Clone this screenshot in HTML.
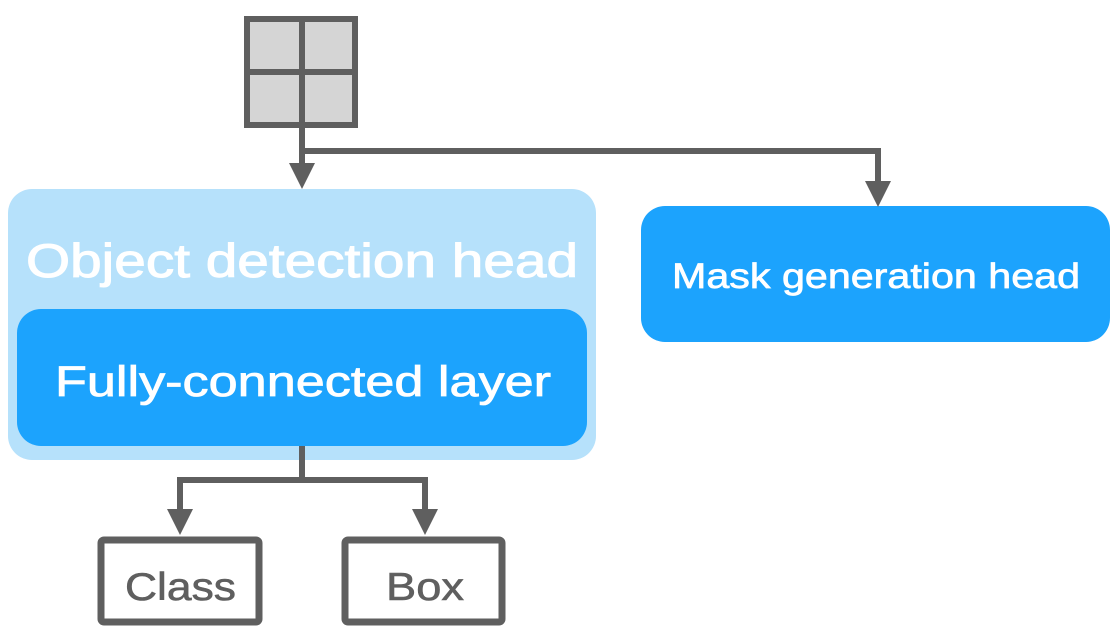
<!DOCTYPE html>
<html><head><style>body{margin:0;background:#fff}</style></head><body>
<svg width="1118" height="638" xmlns="http://www.w3.org/2000/svg" font-family="Liberation Sans, sans-serif">
<rect x="8" y="189" width="588" height="271" rx="24" fill="#b6e1fb"/>
<text x="26" y="277" font-size="47" fill="#fff" stroke="#fff" stroke-width="1" textLength="552" lengthAdjust="spacingAndGlyphs">Object detection head</text>
<rect x="17" y="309" width="570" height="137" rx="24" fill="#1ca3fd"/>
<text x="55" y="396" font-size="43" fill="#fff" stroke="#fff" stroke-width="0.8" textLength="496" lengthAdjust="spacingAndGlyphs">Fully-connected layer</text>
<rect x="641" y="206" width="469" height="136" rx="24" fill="#1ca3fd"/>
<text x="672" y="288" font-size="35" fill="#fff" stroke="#fff" stroke-width="0.7" textLength="408" lengthAdjust="spacingAndGlyphs">Mask generation head</text>
<g fill="#d5d5d5" stroke="#5f5f5f" stroke-width="6">
<rect x="247" y="19" width="108" height="106"/>
<line x1="302" y1="19" x2="302" y2="125"/><line x1="247" y1="72" x2="355" y2="72"/>
</g>
<g stroke="#5f5f5f" stroke-width="6" fill="none">
<polyline points="302,125 302,166"/>
<polyline points="302,151 878,151 878,184"/>
<polyline points="302,446 302,480 180,480 180,512"/>
<polyline points="302,480 425,480 425,512"/>
</g>
<g fill="#5f5f5f">
<polygon points="289,163 315,163 302,189"/>
<polygon points="865,181 891,181 878,207"/>
<polygon points="167,509 193,509 180,535"/>
<polygon points="412,509 438,509 425,535"/>
</g>
<g fill="#fff" stroke="#5f5f5f" stroke-width="7">
<rect x="101" y="540" width="158" height="82" rx="3"/>
<rect x="345" y="540" width="157" height="82" rx="3"/>
</g>
<text x="125" y="600" font-size="39" fill="#5f5f5f" stroke="#5f5f5f" stroke-width="0.6" textLength="111" lengthAdjust="spacingAndGlyphs">Class</text>
<text x="386" y="600" font-size="39" fill="#5f5f5f" stroke="#5f5f5f" stroke-width="0.6" textLength="78" lengthAdjust="spacingAndGlyphs">Box</text>
</svg>
</body></html>
